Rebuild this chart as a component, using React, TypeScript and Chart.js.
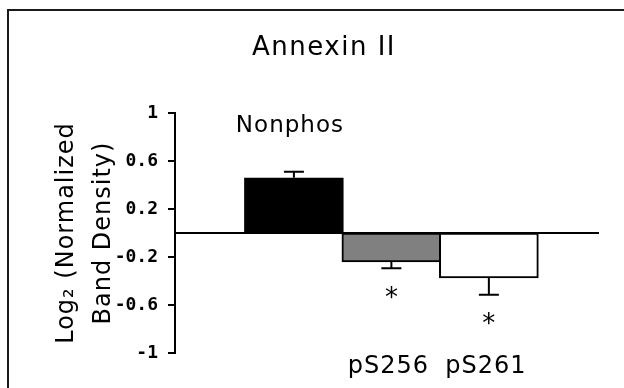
import React, { useEffect, useRef } from 'react';
import { Chart, registerables } from 'chart.js';

Chart.register(...registerables);

const chartTitle = 'Annexin II';
const yTitleLines = ['Log₂ (Normalized', 'Band Density)'];
const categories = ['Nonphos', 'pS256', 'pS261'];
const values = [0.46, -0.24, -0.375];
const errors = [0.05, 0.053, 0.14];
const significant = [false, true, true];
const fillColors = ['#000000', '#808080', '#ffffff'];
const yTicks = [1, 0.6, 0.2, -0.2, -0.6, -1];

const W = 624;
const H = 388;

function setSpacing(ctx: any, s: string) {
  if ('letterSpacing' in ctx) ctx.letterSpacing = s;
}

const decor = {
  id: 'decor',
  beforeDraw(chart: any) {
    const ctx = chart.ctx;
    ctx.save();
    ctx.fillStyle = '#ffffff';
    ctx.fillRect(0, 0, chart.width, chart.height);
    ctx.strokeStyle = '#1a1a1a';
    ctx.lineWidth = 2;
    ctx.strokeRect(8, 10, chart.width + 40, chart.height + 40);
    ctx.restore();
  },
  afterDatasetsDraw(chart: any) {
    const ctx = chart.ctx;
    const area = chart.chartArea;
    const y = chart.scales.y;
    const y0 = y.getPixelForValue(0);
    ctx.save();
    ctx.strokeStyle = '#000';
    ctx.lineWidth = 2;
    ctx.beginPath();
    ctx.moveTo(area.left, y0);
    ctx.lineTo(area.right, y0);
    ctx.stroke();

    const meta = chart.getDatasetMeta(0);
    ctx.fillStyle = '#000';
    meta.data.forEach((bar: any, i: number) => {
      const v = values[i];
      const sign = v >= 0 ? 1 : -1;
      const yEnd = y.getPixelForValue(v);
      const yErr = y.getPixelForValue(v + sign * errors[i]);
      ctx.beginPath();
      ctx.moveTo(bar.x, yEnd);
      ctx.lineTo(bar.x, yErr);
      ctx.moveTo(bar.x - 10, yErr);
      ctx.lineTo(bar.x + 10, yErr);
      ctx.stroke();

      const label = categories[i];
      setSpacing(ctx, '1px');
      ctx.textAlign = 'center';
      ctx.textBaseline = 'alphabetic';
      if (v >= 0) {
        ctx.font = '23px "DejaVu Sans"';
        ctx.fillText(label, bar.x - 4, area.top + 19);
      } else {
        ctx.font = '24px "DejaVu Sans"';
        ctx.fillText(label, bar.x - 3, area.bottom + 20);
        if (significant[i]) {
          ctx.font = '26px "DejaVu Sans"';
          setSpacing(ctx, '0px');
          ctx.fillText('*', bar.x, yErr + 24 + 26 * 0.52);
        }
      }
    });

    // title
    setSpacing(ctx, '1.5px');
    ctx.font = '26px "DejaVu Sans"';
    ctx.textAlign = 'center';
    ctx.textBaseline = 'alphabetic';
    ctx.fillText(chartTitle, 324, 55);

    // y-axis title
    setSpacing(ctx, '1px');
    const yc = (area.top + area.bottom) / 2;
    ctx.font = '24px "DejaVu Sans"';
    const baselines = [73, 110];
    yTitleLines.forEach((line, k) => {
      ctx.save();
      ctx.translate(baselines[k], yc);
      ctx.rotate(-Math.PI / 2);
      ctx.fillText(line, 0, 0);
      ctx.restore();
    });
    ctx.restore();
  },
};

export default function App() {
  const ref = useRef<HTMLCanvasElement | null>(null);
  useEffect(() => {
    if (!ref.current) return;
    const chart = new Chart(ref.current, {
      type: 'bar',
      data: {
        datasets: [
          {
            data: values.map((v, i) => ({ x: i, y: v })),
            backgroundColor: fillColors,
            borderColor: '#000000',
            borderWidth: 2,
            borderSkipped: false,
            barThickness: 99,
          },
        ],
      },
      options: {
        responsive: false,
        animation: false,
        devicePixelRatio: 1,
        layout: { padding: { left: 0, right: 25, top: 113, bottom: 35 } },
        plugins: {
          legend: { display: false },
          tooltip: { enabled: false },
          title: { display: false },
        },
        scales: {
          x: {
            type: 'linear',
            display: false,
            min: -1.22,
            max: 3.13,
            offset: false,
          },
          y: {
            min: -1,
            max: 1,
            afterFit(scale: any) {
              scale.width = 175;
            },
            afterBuildTicks(scale: any) {
              scale.ticks = yTicks.map((v) => ({ value: v }));
            },
            border: { display: true, color: '#000', width: 2 },
            grid: {
              display: true,
              drawOnChartArea: false,
              drawTicks: true,
              tickLength: 7,
              color: '#000',
              lineWidth: 2,
            },
            ticks: {
              padding: 10,
              color: '#000',
              font: { family: '"DejaVu Sans Mono"', size: 18, weight: 'bold' },
              callback: (v: any) => String(v),
            },
          },
        },
      },
      plugins: [decor],
    });
    return () => chart.destroy();
  }, []);
  return (
    <div style={{ position: 'fixed', left: 0, top: 0, width: W, height: H, background: '#fff' }}>
      <canvas ref={ref} width={W} height={H} style={{ width: W, height: H, display: 'block' }} />
    </div>
  );
}
